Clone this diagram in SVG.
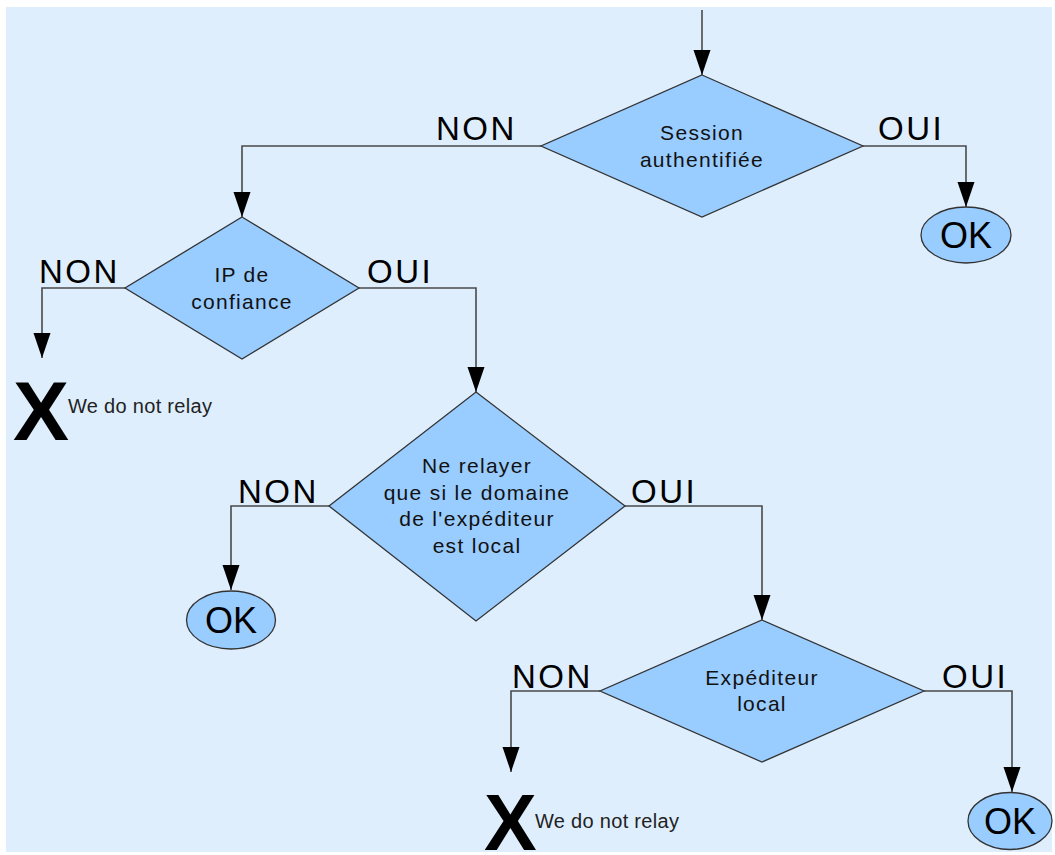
<svg xmlns="http://www.w3.org/2000/svg" width="1055" height="855" viewBox="0 0 1055 855">
<defs>
<marker id="arr" markerUnits="userSpaceOnUse" markerWidth="26" markerHeight="18" refX="25" refY="8.5" orient="auto">
<path d="M0,0 L25,8.5 L0,17 z" fill="#000"/>
</marker>
<style>
.bg{fill:#dfeefd}
.dec{fill:#99ccff;stroke:#333;stroke-width:1.3}
.term{fill:#99ccff;stroke:#333;stroke-width:1.3}
.con{fill:none;stroke:#4a4a4a;stroke-width:1.6;marker-end:url(#arr)}
.t{font-family:"Liberation Sans",Arial,sans-serif;font-size:21px;fill:#111;text-anchor:middle;letter-spacing:1.3px}
.lbl{font-family:"Liberation Sans",Arial,sans-serif;font-size:33px;fill:#000;letter-spacing:2.5px}
.ok{font-family:"Liberation Sans",Arial,sans-serif;font-size:36px;fill:#000;text-anchor:middle}
.x{font-family:"Liberation Sans",Arial,sans-serif;font-size:84px;font-weight:bold;fill:#000}
.note{font-family:"Liberation Sans",Arial,sans-serif;font-size:20px;fill:#222;letter-spacing:0.3px}
</style>
</defs>
<rect class="bg" x="6" y="7" width="1046" height="845"/>
<g id="connectors">
<path class="con" d="M702,10 V75"/>
<path class="con" d="M541,146 H242 V217"/>
<path class="con" d="M863,146 H966 V207"/>
<path class="con" d="M125,288 H42 V358"/>
<path class="con" d="M359,288 H476 V392"/>
<path class="con" d="M329,506 H231 V590"/>
<path class="con" d="M625,506 H762 V620"/>
<path class="con" d="M600,691 H511 V772"/>
<path class="con" d="M924,691 H1012 V792"/>
<text class="lbl" x="436" y="140">NON</text>
<text class="lbl" x="878" y="140">OUI</text>
<text class="lbl" x="39" y="283">NON</text>
<text class="lbl" x="367" y="283">OUI</text>
<text class="lbl" x="238" y="503">NON</text>
<text class="lbl" x="631" y="503">OUI</text>
<text class="lbl" x="512" y="688">NON</text>
<text class="lbl" x="942" y="688">OUI</text>
</g>
<g id="d1">
<polygon class="dec" points="702,75 863,146 702,217 541,146"/>
<text class="t" x="702" y="140">Session</text>
<text class="t" x="702" y="167">authentifiée</text>
</g>
<g id="ok1">
<ellipse class="term" cx="966" cy="235" rx="45" ry="28"/>
<text class="ok" x="966" y="248">OK</text>
</g>
<g id="d2">
<polygon class="dec" points="242,217 359,288 242,359 125,288"/>
<text class="t" x="242" y="282">IP de</text>
<text class="t" x="242" y="309">confiance</text>
</g>
<g id="x1">
<text class="x" x="13" y="440">X</text>
<text class="note" x="68" y="413">We do not relay</text>
</g>
<g id="d3">
<polygon class="dec" points="476,392 625,506 476,621 329,506"/>
<text class="t" x="477" y="473">Ne relayer</text>
<text class="t" x="477" y="499.5">que si le domaine</text>
<text class="t" x="477" y="526">de l'expéditeur</text>
<text class="t" x="477" y="552.5">est local</text>
</g>
<g id="ok2">
<ellipse class="term" cx="231" cy="620" rx="44.5" ry="29"/>
<text class="ok" x="231" y="633">OK</text>
</g>
<g id="d4">
<polygon class="dec" points="762,620 924,691 762,762 600,691"/>
<text class="t" x="762" y="685">Expéditeur</text>
<text class="t" x="762" y="711">local</text>
</g>
<g id="x2">
<text class="x" x="484" y="850" style="font-size:79px">X</text>
<text class="note" x="535" y="828">We do not relay</text>
</g>
<g id="ok3">
<ellipse class="term" cx="1010" cy="821" rx="42" ry="28.5"/>
<text class="ok" x="1010" y="834">OK</text>
</g>
</svg>
